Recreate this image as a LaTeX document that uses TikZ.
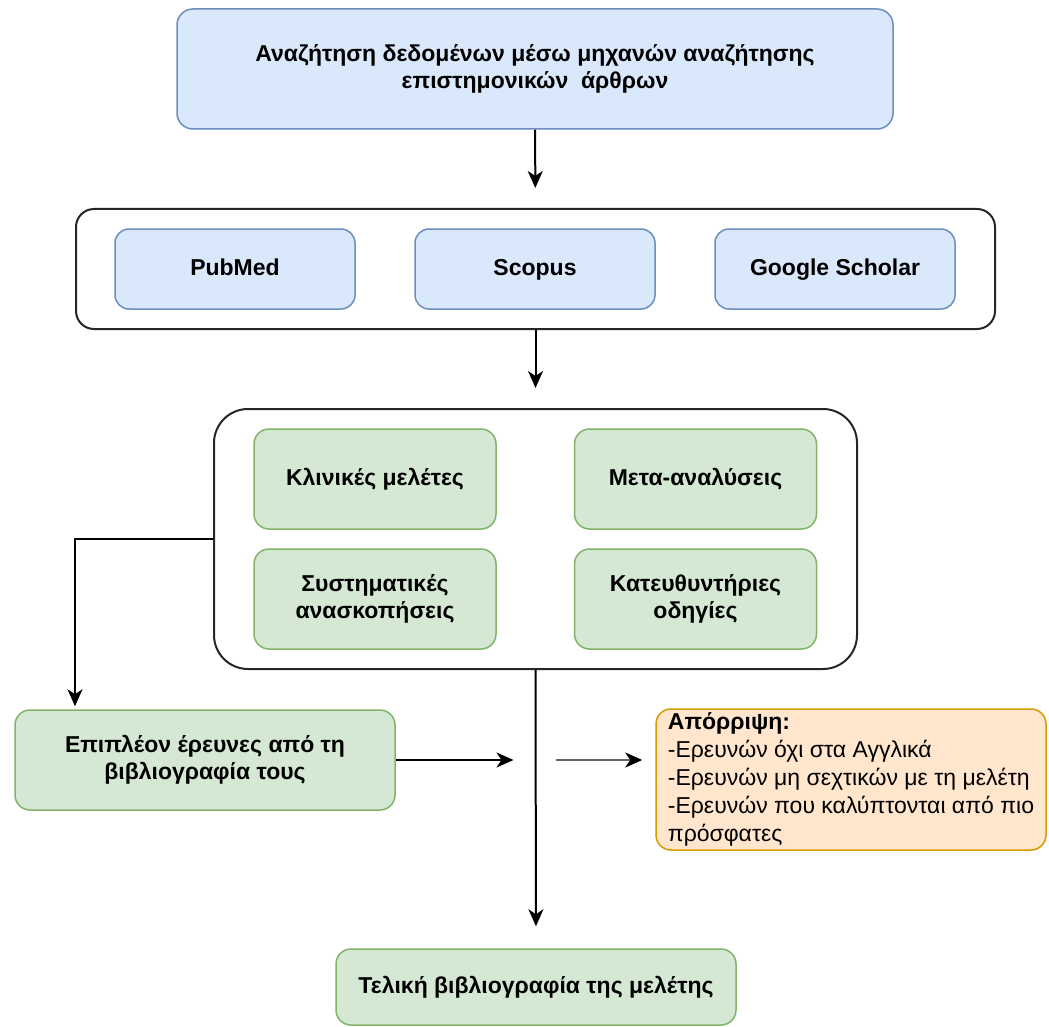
\documentclass[tikz,border=0pt]{standalone}
\usepackage{fontspec}
\setmainfont{Liberation Sans}
\usetikzlibrary{arrows.meta}
\definecolor{bluefill}{HTML}{DAE8FC}
\definecolor{blueline}{HTML}{6C8EBF}
\definecolor{greenfill}{HTML}{D5E8D4}
\definecolor{greenline}{HTML}{82B366}
\definecolor{orangefill}{HTML}{FFE6CC}
\definecolor{orangeline}{HTML}{D79B00}
\begin{document}
\begin{tikzpicture}[x=1pt,y=-1pt,font=\fontsize{23}{27.5}\selectfont,
  bluebox/.style={draw=blueline,fill=bluefill,line width=1.5pt,rounded corners=16pt,align=center,inner sep=0pt,font=\fontsize{23}{26.5}\selectfont\bfseries},
  greenbox/.style={draw=greenline,fill=greenfill,line width=1.5pt,rounded corners=15pt,align=center,inner sep=0pt,font=\fontsize{23}{27}\selectfont\bfseries},
  oneline/.style={text height=17pt,text depth=5pt},
  frame/.style={draw=black!85,fill=white,line width=2pt,inner sep=0pt},
  arr/.style={-{Stealth[length=17pt,width=15pt,inset=5pt,color=black]},line width=2pt}]
\fill[white] (0,0) rectangle (1049,1027);
\useasboundingbox (0,0) rectangle (1049,1027);
% search step
\node[bluebox,minimum width=716pt,minimum height=120pt] (search) at (535,69) {Αναζήτηση δεδομένων μέσω μηχανών αναζήτησης\\επιστημονικών\ \ άρθρων};
% search engines
\node[frame,rounded corners=18pt,minimum width=919pt,minimum height=120pt] (engines) at (535.5,269) {};
\node[bluebox,oneline,rounded corners=14pt,minimum width=240pt,minimum height=80pt] (pubmed) at (235,269) {PubMed};
\node[bluebox,oneline,rounded corners=14pt,minimum width=240pt,minimum height=80pt] (scopus) at (535,269) {Scopus};
\node[bluebox,oneline,rounded corners=14pt,minimum width=240pt,minimum height=80pt] (scholar) at (835,269) {Google Scholar};
% study types
\node[frame,rounded corners=34pt,minimum width=643pt,minimum height=260pt] (types) at (535.5,539) {};
\node[greenbox,oneline,minimum width=242pt,minimum height=100pt] (clinical) at (375,479) {Κλινικές μελέτες};
\node[greenbox,oneline,minimum width=242pt,minimum height=100pt] (meta) at (695.5,479) {Μετα-αναλύσεις};
\node[greenbox,minimum width=242pt,minimum height=100pt] (reviews) at (375,599) {Συστηματικές\\ανασκοπήσεις};
\node[greenbox,minimum width=242pt,minimum height=100pt] (guides) at (695.5,599) {Κατευθυντήριες\\οδηγίες};
% further sources, rejection, result
\node[greenbox,minimum width=380pt,minimum height=100pt] (extra) at (205,760) {Επιπλέον έρευνες από τη\\βιβλιογραφία τους};
\node[draw=orangeline,fill=orangefill,line width=1.5pt,rounded corners=15pt,align=left,inner sep=0pt,minimum width=390pt,minimum height=141pt,font=\fontsize{23}{28}\selectfont] (reject) at (851,779.5) {\textbf{Απόρριψη:}\\-Ερευνών όχι στα Αγγλικά\\-Ερευνών μη σεχτικών με τη μελέτη\\-Ερευνών που καλύπτονται από πιο\\πρόσφατες};
\node[greenbox,oneline,minimum width=400pt,minimum height=76pt] (final) at (536,987) {Τελική βιβλιογραφία της μελέτης};
\coordinate (mid) at (types.south |- extra.east);
\draw[arr,shorten >=20pt] (search) -- (engines);
\draw[arr,shorten >=20pt] (engines) -- (types);
\draw[arr,shorten >=3pt] (types.west) -| ([xshift=-130pt]extra.north);
\draw[arr,shorten >=22pt] (types.south) -- (final.north);
\draw[arr,shorten >=22pt] (extra.east) -- (mid);
\draw[arr,draw=black!60,shorten <=20pt,shorten >=13pt] (mid) -- (mid -| reject.west);
\end{tikzpicture}
\end{document}
